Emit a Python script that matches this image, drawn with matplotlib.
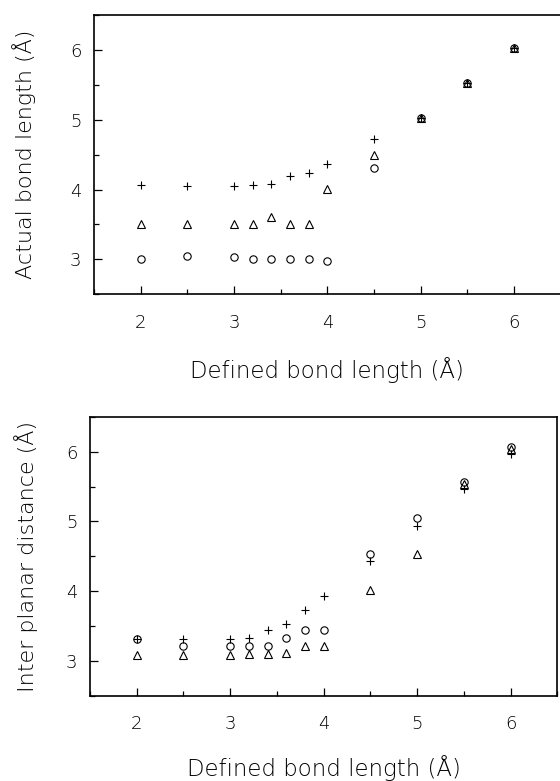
import matplotlib
matplotlib.use("Agg")
import matplotlib.pyplot as plt
from matplotlib.ticker import MultipleLocator

# Defined bond length (x) values
defined = [2.0, 2.5, 3.0, 3.2, 3.4, 3.6, 3.8, 4.0, 4.5, 5.0, 5.5, 6.0]

# Top panel: actual bond length
actual_plus = [4.06, 4.05, 4.05, 4.06, 4.08, 4.19, 4.24, 4.37, 4.72, 5.03, 5.53, 6.03]
actual_tri = [3.50, 3.50, 3.50, 3.50, 3.61, 3.50, 3.50, 4.01, 4.50, 5.03, 5.53, 6.03]
actual_circ = [3.00, 3.05, 3.04, 3.00, 3.01, 3.00, 3.00, 2.98, 4.31, 5.03, 5.53, 6.03]

# Bottom panel: inter planar distance
inter_plus = [3.31, 3.32, 3.32, 3.33, 3.44, 3.53, 3.73, 3.93, 4.44, 4.94, 5.47, 5.97]
inter_tri = [3.09, 3.09, 3.09, 3.10, 3.10, 3.11, 3.21, 3.21, 4.02, 4.54, 5.54, 6.04]
inter_circ = [3.31, 3.22, 3.22, 3.22, 3.22, 3.33, 3.44, 3.44, 4.54, 5.05, 5.57, 6.06]

x_ticks = [2, 3, 4, 5, 6]
y_ticks = [3, 4, 5, 6]

plt.rcParams["font.family"] = ["DejaVu Sans"]
plt.rcParams["font.weight"] = 200

W, H = 560, 781
fig = plt.figure(figsize=(W / 100, H / 100), dpi=100)

def px_axes(left, top, right, bottom):
    return fig.add_axes([left / W, 1 - bottom / H, (right - left) / W, (bottom - top) / H])

ax1 = px_axes(94, 15, 560.7, 294.3)
ax2 = px_axes(90, 416.7, 557.3, 696)

def style(ax, ylabel, xlabel_y, ylabel_x):
    ax.set_xlim(1.5, 6.5)
    ax.set_ylim(2.5, 6.5)
    ax.set_xticks(x_ticks)
    ax.set_yticks(y_ticks)
    ax.xaxis.set_minor_locator(MultipleLocator(0.5))
    ax.yaxis.set_minor_locator(MultipleLocator(0.5))
    ax.tick_params(which="major", direction="in", length=6, width=0.9,
                   labelsize=13, top=False, right=False)
    ax.tick_params(which="minor", direction="in", length=3.5, width=0.9,
                   top=False, right=False)
    ax.tick_params(axis="x", which="major", pad=14)
    ax.tick_params(axis="y", which="major", pad=9)
    for s in ax.spines.values():
        s.set_linewidth(1.2)
    ax.set_ylabel(ylabel, fontsize=16, fontweight=200)
    ax.set_xlabel("Defined bond length (Å)", fontsize=16.5, fontweight=200)
    ax.yaxis.set_label_coords(ylabel_x, 0.5)
    ax.xaxis.set_label_coords(0.5, xlabel_y)
    ax.xaxis.label.set_va("center")
    ax.yaxis.label.set_va("center")

mk = dict(linestyle="none", color="black", markerfacecolor="none", markeredgewidth=0.8)

ax1.plot(defined, actual_plus, marker="+", markersize=6, **mk)
ax1.plot(defined, actual_tri, marker="^", markersize=5.8, **mk)
ax1.plot(defined, actual_circ, marker="o", markersize=5.3, **mk)
style(ax1, "Actual bond length (Å)", -0.272, -0.150)

ax2.plot(defined, inter_plus, marker="+", markersize=6, **mk)
ax2.plot(defined, inter_tri, marker="^", markersize=5.8, **mk)
ax2.plot(defined, inter_circ, marker="o", markersize=5.3, **mk)
style(ax2, "Inter planar distance (Å)", -0.258, -0.137)

fig.savefig("out.png", dpi=100)
